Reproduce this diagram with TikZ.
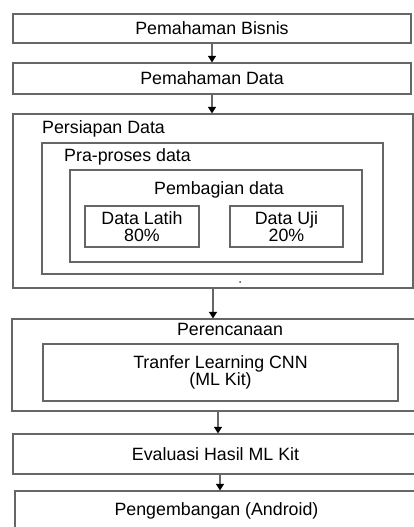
\documentclass[tikz,border=0pt]{standalone}
\usepackage{fontspec}
\setmainfont{Liberation Sans}
\usetikzlibrary{arrows.meta,positioning}

\tikzset{
    box/.style={draw=black!60,line width=1.2pt,rectangle,inner sep=0pt,
        font=\fontsize{17.8}{16.5}\selectfont,align=center},
    lbl/.style={inner sep=0pt,font=\fontsize{17.8}{16.5}\selectfont},
    flow/.style={draw=black!60,line width=1.2pt,-{Triangle[width=8pt,length=6.5pt,color=black]}}
}

\begin{document}
\begin{tikzpicture}[x=1pt,y=-1pt]
    \useasboundingbox (0,0) rectangle (414,527);
    \clip (0,0) rectangle (414,527);
    \node[box,minimum width=398pt,minimum height=29pt] (biz) at (212,28.5) {Pemahaman Bisnis};
    \node[box,minimum width=398pt,minimum height=31pt] (dat) at (212,78.5) {Pemahaman Data};
    \node[box,minimum width=400pt,minimum height=174pt] (prep) at (213,201) {};
    \node[lbl,anchor=base west] (prepl) at (42,133) {Persiapan Data};
    \node[box,minimum width=341pt,minimum height=131pt] (pre) at (212.5,208.5) {};
    \node[lbl,anchor=base west] (prel) at (64,161) {Pra-proses data};
    \node[box,minimum width=292pt,minimum height=92pt] (split) at (216,216) {};
    \node[lbl,anchor=base] (splitl) at (219,194) {Pembagian data};
    \node[box,minimum width=114pt,minimum height=41pt] (train) at (142,226.5) {Data Latih\\80\%};
    \node[box,minimum width=113pt,minimum height=41pt] (test) at (286.5,226.5) {Data Uji\\20\%};
    \fill[black!70] (240,282) circle (1pt);
    \node[box,minimum width=406pt,minimum height=92pt] (plan) at (215,365) {};
    \node[lbl,anchor=base] (planl) at (230,335) {Perencanaan};
    \node[box,minimum width=355pt,minimum height=57pt] (cnn) at (220.5,372.5) {Tranfer Learning CNN\\(ML Kit)};
    \node[box,minimum width=405pt,minimum height=40pt] (eval) at (215.5,454) {Evaluasi Hasil ML Kit};
    \node[box,minimum width=403pt,minimum height=39pt] (dev) at (216.5,510.5) {Pengembangan (Android)};
    \draw[flow] (biz)--(dat);
    \draw[flow] (dat.south)--(dat.south |- prep.north);
    \draw[flow] (prep.south)--(prep.south |- plan.north);
    \draw[flow] ([xshift=3pt]plan.south)--([xshift=3pt]plan.south |- eval.north);
    \draw[flow] ([xshift=4.5pt]eval.south)--([xshift=4.5pt]eval.south |- dev.north);
\end{tikzpicture}
\end{document}
